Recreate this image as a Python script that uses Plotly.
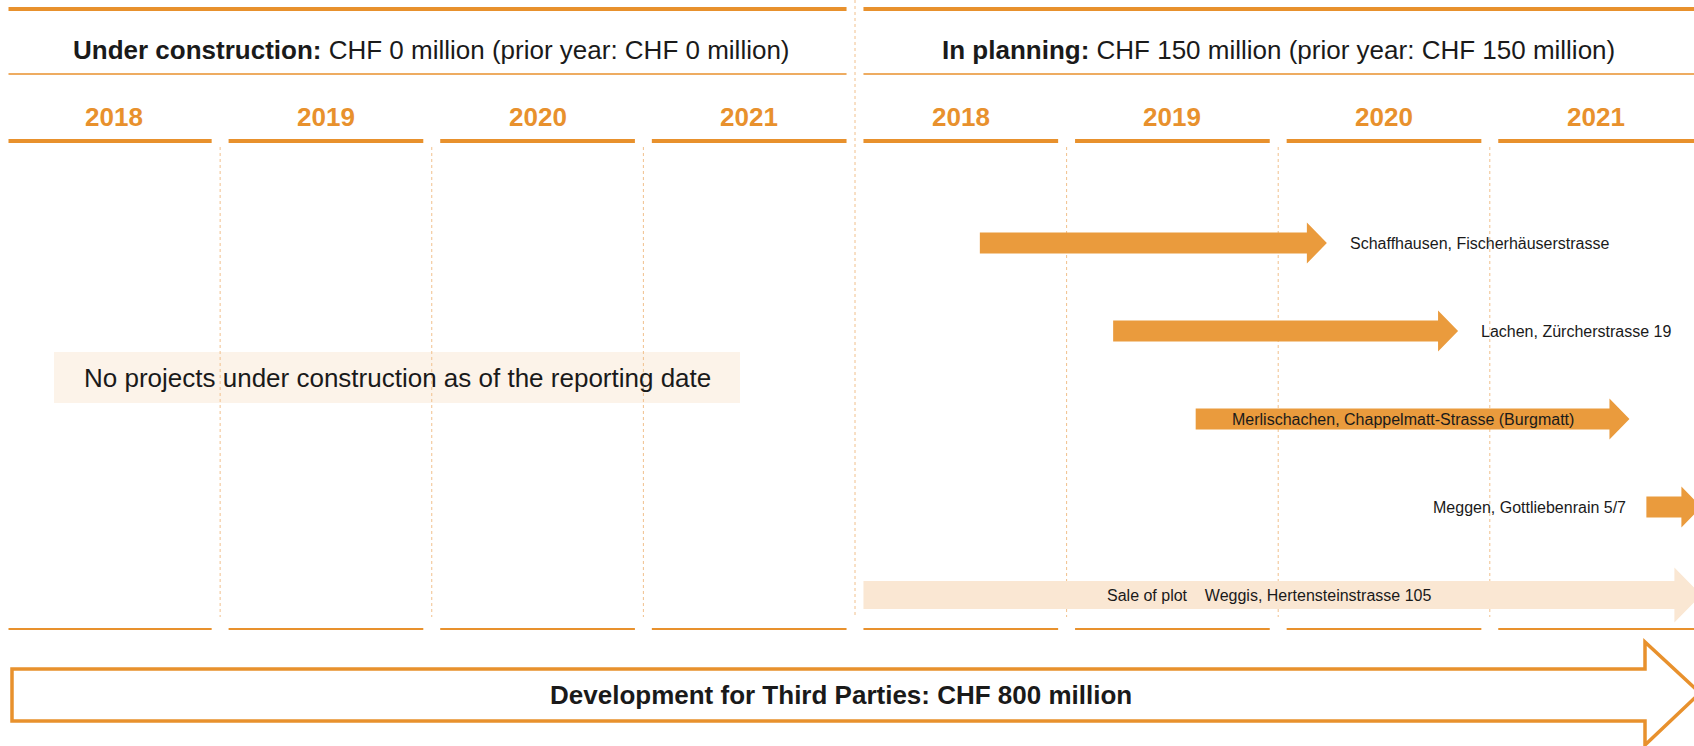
import plotly.graph_objects as go

# panels
PANELS = ["Under construction", "In planning"]
PANEL_CHF = [0, 150]
PRIOR_CHF = [0, 150]
YEARS = [2018, 2019, 2020, 2021]
EMPTY_NOTE = "No projects under construction as of the reporting date"

# projects in planning (start / arrow tip as decimal years)
PROJECTS = ["Schaffhausen, Fischerhäuserstrasse", "Lachen, Zürcherstrasse 19",
            "Merlischachen, Chappelmatt-Strasse (Burgmatt)", "Meggen, Gottliebenrain 5/7",
            "Weggis, Hertensteinstrasse 105"]
START = [2018.59, 2019.22, 2019.61, 2021.74, 2018.04]
END = [2020.23, 2020.85, 2021.66, 2022.0, 2022.0]
REMARK = ["", "", "", "", "Sale of plot"]

THIRD_PARTIES_CHF = 800

# look
W, H = 1694, 746
YR = 211.6          # px per year
SPLIT = 855         # px where the panels meet
GAP = 0.04          # gap around the year boundaries (years)
ORANGE = "#E8912D"
ARROW = "#EA9B3D"
LIGHT = "#FAE7D3"
BOX = "#FCF3E9"
DOTS = "#F1C08C"
TXT = "#1A1A1A"
FONT = "Arial, Liberation Sans, sans-serif"
LABEL_POS = ["after", "after", "inside", "before", "inside"]

ranges = [[2018 - 8.5 / YR, 2022], [2018, 2018 + (W - SPLIT) / YR]]
axes = ["x", "x2"]

fig = go.Figure()
fig.add_trace(go.Scatter(x=[], y=[], xaxis="x", yaxis="y", showlegend=False))
fig.add_trace(go.Scatter(x=[], y=[], xaxis="x2", yaxis="y", showlegend=False))

shapes = []
annots = []


def hline(ax, x0, x1, y, w):
    shapes.append(dict(type="line", xref=ax, yref="y", x0=x0, x1=x1, y0=y, y1=y,
                       line=dict(color=ORANGE, width=w)))


for p, ax in enumerate(axes):
    first, last = YEARS[0], YEARS[-1] + 1
    x0 = first + (GAP if p == 1 else 0)
    x1 = last - (GAP if p == 0 else 0)
    hline(ax, x0, x1, 9, 4)
    hline(ax, x0, x1, 74, 1.5)
    annots.append(dict(xref=ax, yref="y", x=(first + last) / 2, y=50, xanchor="center",
                       text=f"<b>{PANELS[p]}:</b> CHF {PANEL_CHF[p]} million "
                            f"(prior year: CHF {PRIOR_CHF[p]} million)",
                       font=dict(size=26, color=TXT, family=FONT), showarrow=False))
    for yr in YEARS:
        s0 = yr + GAP if not (p == 0 and yr == first) else yr
        s1 = yr + 1 - GAP if not (p == 1 and yr == YEARS[-1]) else yr + 1
        hline(ax, s0, s1, 141, 4)
        hline(ax, s0, s1, 629, 2)
        annots.append(dict(xref=ax, yref="y", x=yr + 0.5, y=117, text=f"<b>{yr}</b>",
                           xanchor="center",
                           font=dict(size=26, color=ORANGE, family=FONT), showarrow=False))
    for yr in YEARS[1:]:
        shapes.append(dict(type="line", xref=ax, yref="y", x0=yr, x1=yr, y0=147, y1=617,
                           line=dict(color=DOTS, width=1, dash="dot")))

# separator between panels
shapes.append(dict(type="line", xref="paper", yref="y", x0=SPLIT / W, x1=SPLIT / W,
                   y0=0, y1=617, line=dict(color=DOTS, width=1, dash="dot")))

# empty note in the left panel
shapes.append(dict(type="rect", xref="paper", yref="y", x0=54 / W, x1=740 / W,
                   y0=352, y1=403, fillcolor=BOX, line=dict(width=0), layer="below"))
annots.append(dict(xref="paper", yref="y", x=397 / W, y=378, text=EMPTY_NOTE,
                   xanchor="center",
                   font=dict(size=26, color=TXT, family=FONT), showarrow=False))

# project arrows
for i, name in enumerate(PROJECTS):
    yc = 243 + i * 88
    sale = REMARK[i] != ""
    bh, hh, hl = (14, 27.5, 27) if sale else (10.5, 20.5, 20)
    x0, x1 = START[i], END[i]
    xh = x1 - hl / YR
    path = (f"M {x0},{yc - bh} L {xh},{yc - bh} L {xh},{yc - hh} L {x1},{yc} "
            f"L {xh},{yc + hh} L {xh},{yc + bh} L {x0},{yc + bh} Z")
    shapes.append(dict(type="path", xref="x2", yref="y", path=path,
                       fillcolor=LIGHT if sale else ARROW, line=dict(width=0)))
    label = (REMARK[i] + "\u00a0\u00a0\u00a0 " + name) if sale else name
    pos = LABEL_POS[i]
    if pos == "after":
        a = dict(x=x1, xanchor="left", xshift=21)
    elif pos == "before":
        a = dict(x=x0, xanchor="right", xshift=-18)
    else:
        a = dict(x=(x0 + xh) / 2, xanchor="center")
    annots.append(dict(xref="x2", yref="y", y=yc, text=label, showarrow=False,
                       font=dict(size=16, color=TXT, family=FONT), **a))

# development for third parties
l, xh, tip = 12 / W, 1645 / W, 1700 / W
path = (f"M {l},669 L {xh},669 L {xh},642 L {tip},693 L {xh},745 L {xh},721 "
        f"L {l},721 Z")
shapes.append(dict(type="path", xref="paper", yref="y", path=path, fillcolor="white",
                   line=dict(color=ORANGE, width=3.5)))
annots.append(dict(xref="paper", yref="y", x=841 / W, y=695, xanchor="center",
                   text=f"<b>Development for Third Parties: CHF {THIRD_PARTIES_CHF} million</b>",
                   font=dict(size=26, color=TXT, family=FONT), showarrow=False))

fig.update_layout(
    width=W, height=H,
    margin=dict(l=0, r=0, t=0, b=0),
    paper_bgcolor="white", plot_bgcolor="white",
    shapes=shapes, annotations=annots,
    showlegend=False,
    xaxis=dict(domain=[0, SPLIT / W], range=ranges[0], visible=False, fixedrange=True),
    xaxis2=dict(domain=[SPLIT / W, 1], range=ranges[1], visible=False, anchor="y",
                fixedrange=True),
    yaxis=dict(domain=[0, 1], range=[H, 0], visible=False, fixedrange=True),
)

fig.write_html("out.html", config={"displayModeBar": False},
               post_script="document.body.style.margin='0';")
